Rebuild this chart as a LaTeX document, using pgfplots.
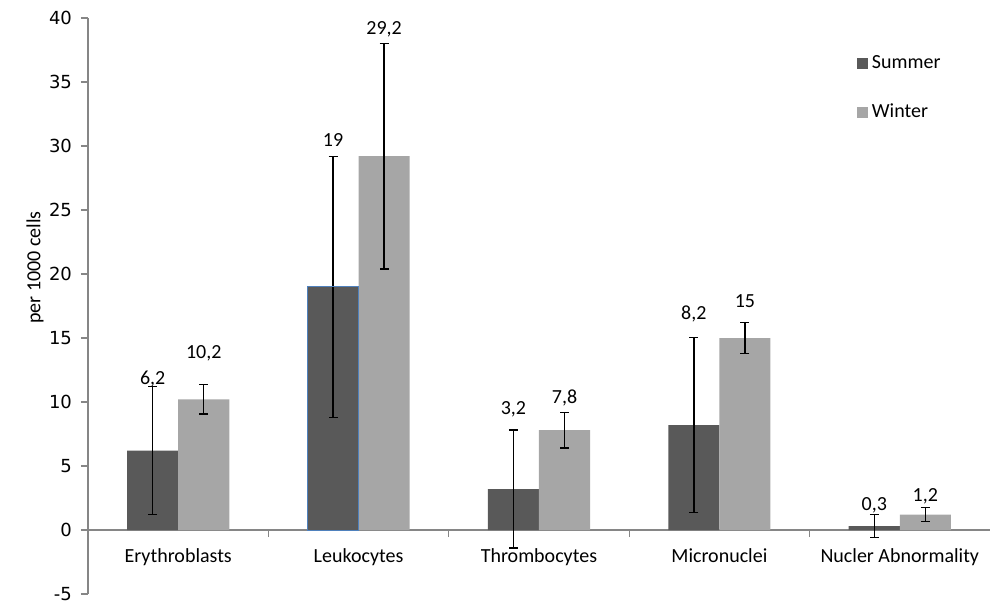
\documentclass[border=0pt]{standalone}
\usepackage{pgfplots}
\pgfplotsset{compat=1.18}
\usepackage{pgfplotstable}
\usepackage{fontspec}
\setmainfont{Carlito}
\newfontfamily\dejavu{DejaVu Sans}
\definecolor{summer}{HTML}{595959}
\definecolor{winter}{HTML}{A6A6A6}
\definecolor{axgray}{HTML}{868686}
\definecolor{bborder}{HTML}{4F81BD}
\pgfplotstableread{
x s se w we
0 6.2 5.0 10.2 1.15
1 19 10.2 29.2 8.8
2 3.2 4.6 7.8 1.4
3 8.2 6.85 15 1.2
4 0.3 0.9 1.2 0.55
}\data
\begin{document}
\begin{tikzpicture}
\useasboundingbox (-44pt,-4pt) rectangle (452pt,297pt);
\begin{axis}[
  at={(0,0)}, anchor=south west,
  scale only axis, width=451pt, height=288pt,
  xmin=-0.5, xmax=4.5, ymin=-5, ymax=40,
  axis x line*=middle, axis y line*=left,
  axis line style={-, draw=axgray, line width=0.6pt},
  hide obscured x ticks=false, hide obscured y ticks=false,
  ytick={-5,0,...,40},
  yticklabel style={font=\dejavu\fontsize{9}{10}\selectfont, text=black, xshift=-1pt},
  /pgf/number format/assume math mode=true,
  xtick={0,1,2,3,4},
  xticklabels={Erythroblasts, Leukocytes, Thrombocytes, Micronuclei, Nucler Abnormality},
  xticklabel style={font=\fontsize{10}{12}\selectfont, yshift=-2.5pt},
  minor xtick={0.5,1.5,2.5,3.5},
  major x tick style={draw=none},
  minor x tick style={draw=axgray, line width=0.6pt},
  minor tick length=3.5pt,
  y tick style={draw=axgray, line width=0.6pt},
  major tick length=3.5pt,
  tick align=outside,
  ylabel={per 1000 cells},
  every axis y label/.append style={at={(axis description cs:-0.0588,0.567)}, anchor=center, font=\fontsize{10}{12}\selectfont},
  ybar=0pt, bar width=0.283,
  legend style={at={(axis description cs:0.852,0.943)}, anchor=north west, draw=none, fill=none, inner sep=0pt, row sep=12.5pt, font=\fontsize{10}{12}\selectfont, legend cell align=left},
]
\addplot[ybar, bar shift=-0.1415, fill=summer, draw=none,
  legend image code/.code={\fill[summer] (0pt,-2.75pt) rectangle (5.5pt,2.75pt);},
  error bars/.cd, y dir=both, y explicit,
  error bar style={black, line width=0.7pt},
  error mark options={rotate=90, mark size=2.25pt, black, line width=0.7pt}]
  table[x=x, y=s, y error=se] {\data};
\addlegendentry{Summer}
\addplot[ybar, bar shift=0.1415, fill=winter, draw=none,
  legend image code/.code={\fill[winter] (0pt,-2.75pt) rectangle (5.5pt,2.75pt);},
  error bars/.cd, y dir=both, y explicit,
  error bar style={black, line width=0.7pt},
  error mark options={rotate=90, mark size=2.25pt, black, line width=0.7pt}]
  table[x=x, y=w, y error=we] {\data};
\addlegendentry{Winter}
\addplot[ybar, bar shift=-0.1415, fill=none, draw=bborder, line width=0.5pt, forget plot]
  coordinates {(1,19)};
\begin{scope}[every node/.style={font=\fontsize{10}{12}\selectfont, text=black}]
\node at (axis cs:-0.1415,11.8) {6,2};
\node at (axis cs:0.1415,13.8) {10,2};
\node at (axis cs:0.8585,30.5) {19};
\node at (axis cs:1.1415,39.1) {29,2};
\node at (axis cs:1.8585,9.45) {3,2};
\node at (axis cs:2.1415,10.3) {7,8};
\node at (axis cs:2.8585,16.9) {8,2};
\node at (axis cs:3.1415,17.9) {15};
\node at (axis cs:3.8585,1.9) {0,3};
\node at (axis cs:4.1415,2.6) {1,2};
\end{scope}
\end{axis}
\end{tikzpicture}
\end{document}
